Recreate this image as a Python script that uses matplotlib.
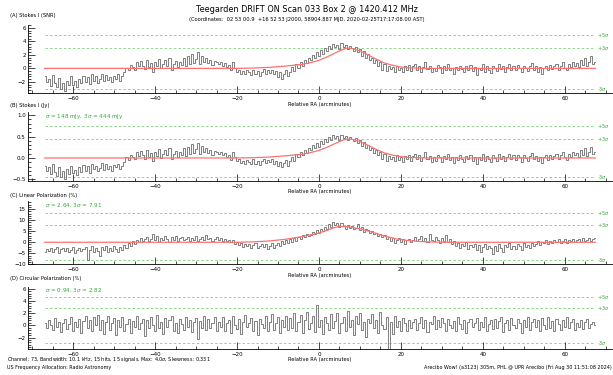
import numpy as np
import matplotlib
matplotlib.use("Agg")
import matplotlib.pyplot as plt
from matplotlib.ticker import MultipleLocator, AutoMinorLocator

# Datos, muestreo cada 0.5 arcmin desde -67
ra = np.arange(270) * 0.5 - 67.0

snr = [
    -1.2, -2.0, -1.5, -2.6, -1.0, -2.2, -2.8, -1.4, -3.0, -2.1,
    -3.3, -1.8, -2.5, -1.2, -2.4, -1.9, -2.7, -1.5, -2.2, -1.1,
    -2.0, -1.3, -2.3, -0.9, -1.8, -1.2, -2.1, -1.6, -0.8, -1.9,
    -1.0, -1.7, -1.3, -2.0, -1.1, -1.5, -0.9, -1.8, -1.2, -0.6,
    0.1, -0.3, 0.5, 0.2, -0.2, 0.9, 0.3, 1.1, 0.4, -0.1,
    1.3, 0.2, 0.8, -0.5, 1.0, 0.3, 1.4, 0.0, 0.7, 1.2,
    0.4, 1.5, -0.2, 0.6, 1.1, 0.2, 0.9, 0.5, 1.6, 0.3,
    1.8, 0.6, 2.2, 0.8, 1.4, 2.4, 0.7, 1.9, 1.0, 1.5,
    0.8, 1.3, 0.5, 1.1, 0.9, 0.6, 1.0, 0.4, 0.8, 0.2,
    0.5, -0.3, 0.9, 0.1, -0.5, -0.2, -0.8, -0.4, -0.9, -0.3,
    -0.6, -1.0, -0.2, -0.9, -0.4, -1.1, -0.5, -0.1, -0.8, -0.3,
    -0.7, -0.2, -0.9, -0.4, -1.3, -0.6, -1.5, -0.8, -0.3, -1.2,
    -0.5, 0.2, -0.4, 0.6, 0.1, 0.9, 0.4, 1.3, 0.8, 1.5,
    1.2, 2.0, 1.6, 2.4, 1.8, 2.7, 2.2, 3.0, 2.5, 3.3,
    2.8, 3.6, 3.1, 3.4, 2.9, 3.7, 3.2, 3.5, 2.8, 3.3,
    3.0, 2.6, 3.2, 2.4, 2.8, 1.9, 2.5, 1.6, 2.1, 1.3,
    1.5, 0.8, 1.2, 0.4, 1.0, -0.2, 0.6, -0.4, 0.3, -0.1,
    0.2, -0.5, 0.4, -0.3, 0.1, -0.6, 0.3, -0.2, 0.5, -0.4,
    0.3, 0.7, -0.2, 0.4, -0.5, 0.2, 0.9, -0.1, 0.3, -0.6,
    0.1, -0.4, 0.5, 0.2, -0.7, 0.3, -0.2, 0.6, -0.3, 0.1,
    -0.8, 0.2, -0.3, 0.4, -0.1, -0.6, 0.3, -0.2, 0.5, -0.4,
    0.2, -1.0, 0.1, -0.3, 0.6, -0.5, 0.3, -0.2, -0.7, 0.4,
    0.0, -0.4, 0.6, -0.1, 0.3, -0.5, 0.2, 0.7, -0.2, 0.4,
    -0.3, 0.5, 0.1, -0.6, 0.4, 0.0, -0.4, 0.3, 0.8, -0.2,
    0.3, -0.5, 0.2, -0.8, 0.1, 0.4, -0.3, 0.5, -0.1, 0.3,
    0.6, -0.2, 0.4, 0.9, 0.1, -0.3, 0.7, 0.2, 1.0, 0.4,
    0.8, 0.2, 1.2, 0.5, 1.6, 0.3, 1.0, 1.8, 0.6, 0.9,
]

# Stokes I en Jy = SNR * sigma
sigma_jy = 0.148
stokes_jy = np.array(snr) * sigma_jy

lin_pol = [
    -4.2, -3.0, -3.8, -2.5, -4.5, -3.2, -2.0, -4.8, -3.1, -2.4,
    -4.0, -2.8, -4.6, -3.3, -2.1, -5.0, -3.5, -2.6, -4.1, -3.0,
    -2.2, -8.0, -3.4, -1.8, -4.3, -2.7, -3.9, -6.0, -2.3, -3.6,
    -1.5, -4.2, -2.8, -3.9, -1.7, -3.1, -4.5, -2.0, -3.3, -1.2,
    -2.6, -0.5, -1.9, 0.4, -0.8, 1.2, 0.1, 1.9, 0.5, 1.4,
    2.3, 0.8, 1.6, 3.8, 1.0, 2.7, 0.3, 2.0, 1.1, 2.9,
    1.4, 0.2, 2.5, 1.0, 3.0, 0.6, 1.8, 2.6, 0.9, 1.5,
    2.4, 0.7, 1.9, 1.2, 2.8, 0.5, 1.6, 2.2, 1.0, 3.2,
    1.3, 2.1, 0.6, 1.7, 2.5, 1.0, 1.8, 0.4, 1.5, 0.8,
    1.2, 0.3, 0.9, -0.6, 0.2, -1.4, -0.5, -2.0, -0.9, -1.6,
    -0.8, -2.4, -1.1, -0.3, -2.8, -1.5, -0.6, -2.2, -1.0, -3.0,
    -1.7, -0.4, -2.5, -1.2, -0.2, -1.9, 0.4, -0.8, 1.0, -0.5,
    1.4, 0.2, 2.0, 0.8, 2.6, 1.5, 3.2, 2.3, 3.8, 2.9,
    3.5, 4.6, 3.9, 5.4, 4.4, 6.1, 5.2, 7.0, 6.0, 8.2,
    7.1, 9.0, 7.6, 8.5, 6.9, 8.8, 7.3, 5.9, 8.0, 6.4,
    7.2, 5.8, 6.6, 8.1, 5.4, 6.9, 4.8, 6.2, 5.5, 4.3,
    5.0, 3.6, 4.4, 2.9, 3.8, 2.2, 3.1, 1.5, 2.4, 0.6,
    1.8, -0.5, 1.0, 2.1, 0.3, 1.4, -0.8, 0.9, 1.7, 0.2,
    1.1, 2.3, 0.4, 1.6, 3.0, 0.8, 1.9, 0.2, 3.9, 1.2,
    0.5, 2.6, 1.0, -0.3, 1.8, 0.6, 3.2, 0.1, 1.4, -0.6,
    0.4, -1.5, -0.3, -2.4, -0.8, -1.9, 0.2, -3.0, -1.2, -2.2,
    -0.6, -3.5, -1.4, -4.6, -2.0, -0.9, -3.2, -1.6, -2.7, -5.2,
    -1.8, -3.8, -0.8, -2.6, -4.4, -1.3, -2.2, -0.4, -3.1, -1.7,
    -2.9, -0.9, -1.8, -3.6, -0.5, -2.0, -1.2, -2.8, -0.3, -1.5,
    -0.7, 0.6, -1.4, 0.2, -0.5, 1.1, -0.9, 0.4, -0.2, 0.9,
    0.3, 1.5, -0.4, 0.8, 1.3, -0.2, 1.0, 0.5, 1.6, 0.1,
    0.9, 1.4, 0.3, 1.8, 0.7, 1.2, 2.1, 0.6, 1.5, 1.9,
]

circ_pol = [
    0.3, -0.5, 0.9, 0.1, -0.8, 1.2, -0.3, 0.6, -1.1, 0.4,
    1.0, -0.6, 0.2, 1.4, -0.9, 0.5, -0.2, 1.1, -1.3, 0.7,
    1.6, -0.4, 0.8, -1.0, 1.3, 0.0, 1.7, -0.7, 0.9, -1.4,
    0.6, 1.5, -0.8, 0.3, 1.2, -1.6, 0.8, -0.2, 1.4, -0.9,
    0.2, 1.0, -1.2, 0.7, -0.3, 1.6, -0.6, 0.4, 1.1, -1.8,
    0.9, -0.5, 1.3, 0.1, -1.0, 1.7, -0.4, 0.6, -1.5, 1.2,
    -0.2, 0.8, 1.5, -0.9, 0.4, -1.3, 1.0, 0.2, -0.7, 1.4,
    -0.3, 0.9, -1.1, 0.5, 1.2, -2.3, 0.7, -0.4, 1.6, -0.8,
    1.1, -0.5, 0.3, 1.4, -1.0, 0.6, -0.2, 1.3, -0.9, 0.4,
    0.8, -1.2, 1.5, 0.0, -0.6, 1.0, -1.4, 0.5, 1.7, -0.3,
    0.4, 1.2, -0.9, 0.7, -1.6, 1.1, 0.2, -0.5, 1.5, -1.0,
    0.6, 1.8, -0.7, 0.3, 1.3, -1.2, 0.9, -0.3, 1.6, -0.8,
    1.2, -0.4, 2.0, -0.9, 0.5, 1.7, -1.3, 0.8, 2.2, -0.6,
    0.4, 1.5, -1.1, 3.3, -0.2, 0.9, -1.5, 1.4, 0.3, -0.7,
    1.9, -0.5, 0.7, 2.1, -1.2, 0.4, 1.3, -0.9, 2.4, -0.3,
    0.8, -1.6, 1.5, 0.2, 2.0, -0.8, 0.6, -1.9, 1.1, 0.3,
    1.8, -0.4, 0.9, -1.3, 2.2, 0.1, -0.6, 1.3, -3.8, 0.5,
    -1.4, 1.6, -0.2, 0.7, -0.9, 1.2, 0.3, -1.0, 0.8, -0.5,
    0.5, 1.1, -0.7, 0.3, 1.4, -0.4, 0.9, -1.1, 0.6, 0.2,
    1.5, -0.6, 0.8, -0.2, 1.2, 0.4, -0.9, 1.0, 0.1, -0.5,
    0.7, -1.0, 1.3, 0.2, -0.6, 0.9, -1.2, 0.5, 1.1, -0.3,
    0.4, 1.2, -0.8, 0.6, -0.3, 1.4, -1.0, 0.2, 0.9, -0.6,
    1.0, -0.4, 0.7, 1.3, -1.1, 0.3, 0.8, -0.7, 1.2, 0.0,
    -0.5, 1.1, 0.4, -1.2, 0.9, -0.2, 1.4, -0.8, 0.5, 1.0,
    -0.3, 0.8, -1.0, 1.2, 0.1, -0.6, 1.3, -0.4, 0.7, -0.9,
    1.1, 0.2, -0.7, 0.9, -0.2, 1.3, -0.5, 0.6, 1.0, -0.8,
    0.4, -0.3, 0.8, -0.6, 0.5, 1.0, -0.4, 0.2, 0.6, 0.1,
]

# Ajustes (línea roja)
fit_ra = [-67, -20, -16, -12, -8, -4, -2, 0, 2, 4, 6, 7, 8, 10, 12, 14, 16, 18, 20, 22, 26, 67.5]
fit_snr = [0, 0, 0.05, 0.15, 0.35, 0.6, 0.85, 1.2, 1.7, 2.3, 2.85, 3.0, 2.95, 2.6, 2.0, 1.35, 0.8, 0.45, 0.2, 0.08, 0, 0]
fit_jy = np.array(fit_snr) * sigma_jy
fit_lin_ra = [-67, -20, -16, -12, -8, -4, 0, 2, 4, 5.5, 7, 10, 13, 16, 19, 22, 26, 30, 67.5]
fit_lin = [0, 0, 0.2, 0.6, 1.4, 2.6, 4.2, 5.4, 6.8, 7.2, 7.0, 6.1, 4.6, 2.8, 1.5, 0.7, 0.2, 0, 0]

# Sigmas por panel
sigmas = [1.0, 0.148, 2.64, 0.94]

titulo = "Teegarden DRIFT ON Scan 033 Box 2 @ 1420.412 MHz"
subtitulo = ("(Coordinates:  02 53 00.9  +16 52 53 J2000, 58904.887 MJD, "
             "2020-02-25T17:17:08.00 AST)")
etiquetas = ["(A) Stokes I (SNR)", "(B) Stokes I (Jy)",
             "(C) Linear Polarization (%)", "(D) Circular Polarization (%)"]
textos_sigma = [None, "$\\sigma$ = 148 mJy, 3$\\sigma$ = 444 mJy",
                "$\\sigma$ = 2.64, 3$\\sigma$ = 7.91", "$\\sigma$ = 0.94, 3$\\sigma$ = 2.82"]

gris = "#808080"
rojo = "#ff7070"
verde = "#7ccf7c"
verde_txt = "#3aa83a"

fig = plt.figure(figsize=(6.13, 3.75), dpi=100)

# posiciones (izq, abajo, ancho, alto) en fracción de figura
pos = [
    [0.046, 0.751, 0.952, 0.182],
    [0.046, 0.517, 0.952, 0.184],
    [0.046, 0.295, 0.952, 0.168],
    [0.046, 0.069, 0.952, 0.166],
]
ylims = [(-3.7, 6.4), (-0.54, 1.07), (-10, 18.5), (-3.9, 6.3)]
mayores = [2, 0.5, 5, 2]
series = [snr, stokes_jy, lin_pol, circ_pol]
ajustes = [(fit_ra, fit_snr), (fit_ra, fit_jy), (fit_lin_ra, fit_lin), None]
etiq_y = [0.958, 0.718, 0.480, 0.257]

for i in range(4):
    ax = fig.add_axes(pos[i])
    ax.plot(ra, series[i], drawstyle="steps-mid", color=gris, lw=0.7, zorder=2)
    if ajustes[i] is not None:
        ax.plot(ajustes[i][0], ajustes[i][1], color=rojo, lw=0.9, zorder=3)
    s = sigmas[i]
    for k, lab in [(5, "+5$\\sigma$"), (3, "+3$\\sigma$"), (-3, "-3$\\sigma$")]:
        ax.plot([-67, 67.2], [k * s, k * s], color=verde, lw=0.6,
                dashes=(3, 2.5), zorder=1)
        ax.text(68.0, k * s, lab, color=verde_txt, fontsize=3.5,
                va="center", ha="left")
    if textos_sigma[i]:
        ax.text(-67, ylims[i][1], textos_sigma[i], color=verde_txt,
                fontsize=4.1, va="top", ha="left")
    ax.set_xlim(-71, 71.5)
    ax.set_ylim(*ylims[i])
    ax.spines["top"].set_visible(False)
    ax.spines["right"].set_visible(False)
    for sp in ["left", "bottom"]:
        ax.spines[sp].set_linewidth(0.6)
    ax.xaxis.set_major_locator(MultipleLocator(20))
    ax.xaxis.set_minor_locator(MultipleLocator(5))
    ax.yaxis.set_major_locator(MultipleLocator(mayores[i]))
    ax.yaxis.set_minor_locator(AutoMinorLocator(5))
    ax.tick_params(which="both", direction="in", labelsize=4, width=0.5,
                   pad=1.8)
    ax.tick_params(which="major", length=5)
    ax.tick_params(which="minor", length=2.5)
    ax.set_xlabel("Relative RA (arcminutes)", fontsize=3.7, labelpad=0.5)
    fig.text(0.016, etiq_y[i], etiquetas[i], fontsize=3.7, va="center")

fig.text(0.5, 0.975, titulo, fontsize=5.9, ha="center", va="center")
fig.text(0.5, 0.947, subtitulo, fontsize=3.7, ha="center", va="center")

fig.text(0.011, 0.040, "Channel: 73, Bandwidth: 10.1 kHz, 15 hits, 15 signals, "
         "Max: 4.0$\\sigma$, Skewness: 0.331", fontsize=3.55, va="center")
fig.text(0.011, 0.020, "US Frequency Allocation: Radio Astronomy",
         fontsize=3.55, va="center")
fig.text(0.998, 0.020, "Arecibo Wow! (a3123) 305m, PHL @ UPR Arecibo "
         "(Fri Aug 30 11:51:08 2024)", fontsize=3.55, ha="right", va="center")

fig.savefig("out.png", dpi=100)
